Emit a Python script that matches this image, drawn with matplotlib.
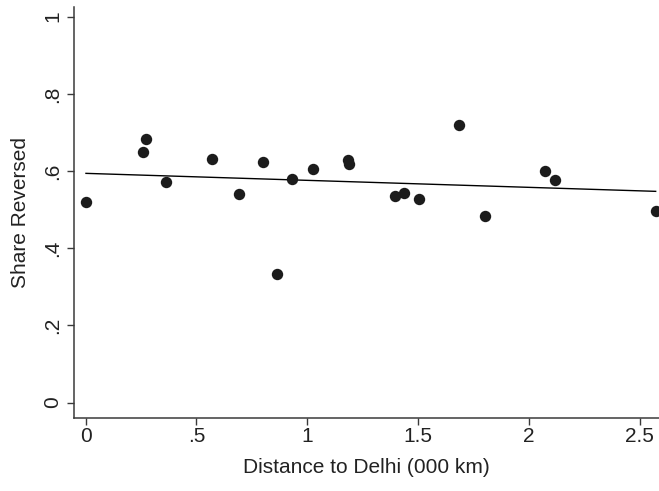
import numpy as np
import matplotlib
matplotlib.use("Agg")
from matplotlib import pyplot as plt

# distance to Delhi (000 km) and share of cases reversed
distance = [0.002, 0.273, 0.261, 0.362, 0.572, 0.693, 0.800, 0.866, 0.932, 1.027,
            1.186, 1.190, 1.395, 1.439, 1.506, 1.687, 1.804, 2.072, 2.117, 2.573]
share_reversed = [0.521, 0.682, 0.649, 0.572, 0.630, 0.541, 0.624, 0.333, 0.580, 0.604,
                  0.629, 0.617, 0.536, 0.543, 0.528, 0.720, 0.484, 0.601, 0.577, 0.496]

x_ticks = [0, 0.5, 1, 1.5, 2, 2.5]
x_labels = ["0", ".5", "1", "1.5", "2", "2.5"]
y_ticks = [0, 0.2, 0.4, 0.6, 0.8, 1.0]
y_labels = ["0", ".2", ".4", ".6", ".8", "1"]

plt.rcParams['font.family'] = ['Liberation Sans', 'DejaVu Sans']

fig = plt.figure(figsize=(6.59, 4.91), dpi=100)
ax = fig.add_axes([0.1123, 0.1487, 0.8877, 0.837])

ax.plot(distance, share_reversed, 'o', color='#1c1c1c', markersize=8.2,
        markeredgewidth=0, clip_on=False, zorder=3)

# linear fit over the observed range
slope, intercept = np.polyfit(distance, share_reversed, 1)
xs = np.array([min(distance), max(distance)])
ax.plot(xs, intercept + slope * xs, color='black', linewidth=1.0, zorder=2)

ax.set_xlim(-0.052, 2.588)
ax.set_ylim(-0.04, 1.025)
ax.set_xticks(x_ticks)
ax.set_xticklabels(x_labels)
ax.set_yticks(y_ticks)
ax.set_yticklabels(y_labels, rotation=90, va='center')

for side in ['top', 'right']:
    ax.spines[side].set_visible(False)
for side in ['left', 'bottom']:
    ax.spines[side].set_color('#3a3a3a')
    ax.spines[side].set_linewidth(1.1)

ax.tick_params(axis='both', direction='out', length=4.7, width=1.0, color='#3a3a3a',
               labelsize=15, labelcolor='#222222')
ax.tick_params(axis='x', pad=1.5)
ax.tick_params(axis='y', pad=3.5)

ax.set_xlabel("Distance to Delhi (000 km)", fontsize=15, color='#222222', labelpad=9)
ax.set_ylabel("Share Reversed", fontsize=15, color='#222222', labelpad=10)

fig.savefig("out.png", dpi=100)
